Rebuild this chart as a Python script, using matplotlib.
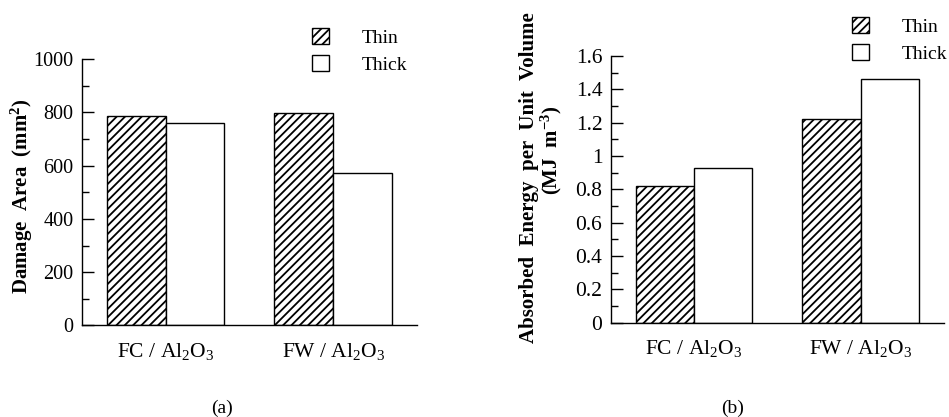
import matplotlib
matplotlib.use("Agg")
import matplotlib.pyplot as plt
import numpy as np
from matplotlib.ticker import MultipleLocator, FuncFormatter

plt.rcParams['font.family'] = 'Liberation Serif'
plt.rcParams['mathtext.fontset'] = 'custom'
plt.rcParams['mathtext.rm'] = 'Liberation Serif'
plt.rcParams['mathtext.it'] = 'Liberation Serif:italic'
plt.rcParams['mathtext.bf'] = 'Liberation Serif:bold'
plt.rcParams['hatch.linewidth'] = 1.3

# ── Data ──
groups = ["FC / Al$_2$O$_3$", "FW / Al$_2$O$_3$"]
series = ["Thin", "Thick"]
damage_thin = [786, 799]        # mm^2
damage_thick = [759, 571]
energy_thin = [0.82, 1.22]      # MJ m^-3
energy_thick = [0.93, 1.46]

x = np.arange(len(groups))
width = 0.35

fig = plt.figure(figsize=(9.49, 4.17), dpi=100)
ax_a = fig.add_axes([0.0861, 0.2199, 0.3533, 0.6379])
ax_b = fig.add_axes([0.6435, 0.2261, 0.3512, 0.6396])


def draw_panel(ax, thin, thick, ymax, major, minor, legend_xy, ysize):
    b1 = ax.bar(x - width / 2, thin, width, color="white", edgecolor="black",
                linewidth=1.0, hatch="////")
    b2 = ax.bar(x + width / 2, thick, width, color="white", edgecolor="black",
                linewidth=1.0)
    ax.set_xlim(-0.5, 1.5)
    ax.set_ylim(0, ymax)
    ax.spines["top"].set_visible(False)
    ax.spines["right"].set_visible(False)
    for s in ("left", "bottom"):
        ax.spines[s].set_linewidth(1.0)
    ax.yaxis.set_major_locator(MultipleLocator(major))
    ax.yaxis.set_minor_locator(MultipleLocator(minor))
    ax.yaxis.set_major_formatter(FuncFormatter(lambda v, p: "%g" % round(v, 3)))
    ax.tick_params(axis="y", which="major", direction="in", length=8.5,
                   width=1.0, labelsize=ysize, pad=6)
    ax.tick_params(axis="y", which="minor", direction="in", length=5, width=1.0)
    ax.set_xticks(x)
    ax.set_xticklabels(groups)
    ax.tick_params(axis="x", length=0, labelsize=15.5, pad=11)
    ax.legend(handles=[b1, b2], labels=series, loc="upper left",
              bbox_to_anchor=legend_xy, bbox_transform=fig.transFigure,
              frameon=False, borderpad=0, borderaxespad=0, fontsize=14,
              handlelength=0.88, handleheight=0.88, handletextpad=1.7,
              labelspacing=0.45)


# (a) damage area
draw_panel(ax_a, damage_thin, damage_thick, 1000, 200, 100,
           (312 / 949, 1 - 28 / 417), 14.5)
fig.text(22 / 949, 1 - 196 / 417, r"Damage  Area  (mm$^{\mathbf{2}}$)",
         rotation=90, ha="center", va="center", fontsize=15, fontweight="bold")

# (b) absorbed energy
draw_panel(ax_b, energy_thin, energy_thick, 1.6, 0.2, 0.1,
           (852 / 949, 1 - 17 / 417), 15.5)
fig.text(529 / 949, 1 - 178 / 417, "Absorbed  Energy  per  Unit  Volume",
         rotation=90, ha="center", va="center", fontsize=15, fontweight="bold")
fig.text(551 / 949, 1 - 150 / 417, r"(MJ  m$^{\mathbf{-3}}$)",
         rotation=90, ha="center", va="center", fontsize=15, fontweight="bold")

fig.text(222 / 949, 0.0216, "(a)", ha="center", va="center", fontsize=14)
fig.text(733 / 949, 0.0216, "(b)", ha="center", va="center", fontsize=14)

fig.savefig("out.png", dpi=100)
